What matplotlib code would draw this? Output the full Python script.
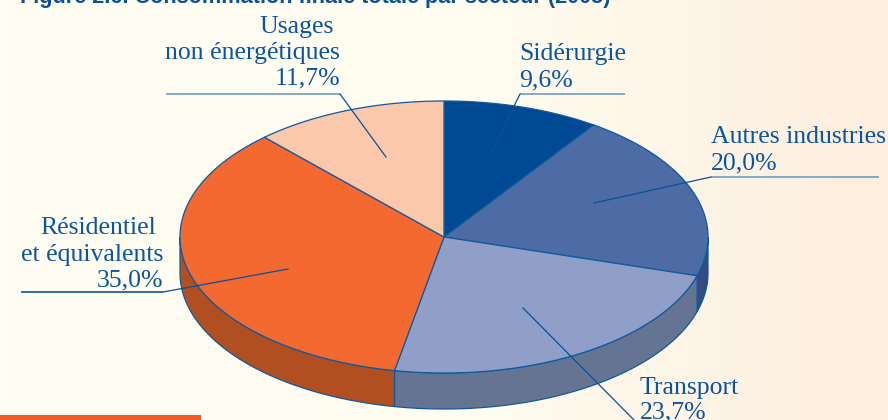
import numpy as np
import matplotlib
matplotlib.use("Agg")
from matplotlib import pyplot as plt
from matplotlib.colors import LinearSegmentedColormap

plt.rcParams['font.family'] = ['Liberation Serif', 'DejaVu Serif']

# slice sizes as measured on the drawing, clockwise from 12 o'clock
# (the printed labels below say 23,7 / 35,0 / 11,7, the drawing is slightly off)
sectors = ["Sidérurgie", "Autres industries", "Transport", "Résidentiel et équivalents", "Usages non énergétiques"]
values = [9.6, 20.0, 23.4, 35.1, 11.9]
top_colors = ["#004a93", "#4d6ca6", "#8f9fc8", "#f4692f", "#fcc8ac"]
side_colors = ["#003a75", "#344c7f", "#667494", "#b24f20", "#c09a80"]

# pie geometry in picture pixels
cx, cy = 444, 237
rx, ry = 264, 136
depth = 36
edge = "#0f5a9e"
text_blue = "#0b559f"
lead_blue = "#6f9cc6"


def pie_xy(pct):
    a = np.radians(np.asarray(pct) * 3.6)
    return cx + rx * np.sin(a), cy - ry * np.cos(a)


fig = plt.figure(figsize=(8.88, 4.2), dpi=100)
ax = fig.add_axes([0, 0, 1, 1])
ax.set_xlim(0, 888)
ax.set_ylim(420, 0)
ax.axis('off')

# paper background, cream going peach on the right
cmap = LinearSegmentedColormap.from_list("paper", [(0, "#fffef3"), (0.55, "#fffcf0"), (1, "#fdeedd")])
ax.imshow(np.linspace(0, 1, 256).reshape(1, -1), extent=(0, 888, 420, 0), cmap=cmap, aspect='auto', zorder=0)

edges = np.concatenate([[0], np.cumsum(values)])

# side wall: only the front half of the ellipse is visible (25% to 75%)
for i in range(len(values)):
    lo, hi = max(edges[i], 25), min(edges[i + 1], 75)
    if hi <= lo:
        continue
    t = np.linspace(lo, hi, 80)
    x, y = pie_xy(t)
    ax.fill(np.r_[x, x[::-1]], np.r_[y, y[::-1] + depth], fc=side_colors[i], ec=edge, lw=0.9, zorder=2)

# top face
for i in range(len(values)):
    t = np.linspace(edges[i], edges[i + 1], 120)
    x, y = pie_xy(t)
    ax.fill(np.r_[cx, x], np.r_[cy, y], fc=top_colors[i], ec=edge, lw=0.9, zorder=3, joinstyle='round')

# leader lines: horizontal rule then the slanted tick into the slice
rules = [(166, 340, 94, lead_blue), (520, 625, 94, lead_blue), (711, 879, 177, lead_blue), (21, 163, 292, text_blue)]
ticks = [((340, 94), (386, 157)), ((520, 94), (490, 155)), ((711, 177), (594, 203)),
         ((163, 292), (288, 269)), ((523, 308), (634, 420))]
for x0, x1, y, c in rules:
    ax.plot([x0, x1], [y, y], color=c, lw=1.2, zorder=4, solid_capstyle='butt')
for p, q in ticks:
    ax.plot([p[0], q[0]], [p[1], q[1]], color="#0a5097", lw=0.9, zorder=4)

fs = 18.5
ax.text(334, 26.5, "Usages", ha='right', va='center', color=text_blue, fontsize=fs, zorder=5)
ax.text(340, 53, "non énergétiques", ha='right', va='center', color=text_blue, fontsize=fs, zorder=5)
ax.text(340, 78, "11,7%", ha='right', va='center', color=text_blue, fontsize=fs, zorder=5)
ax.text(519, 54, "Sidérurgie", ha='left', va='center', color=text_blue, fontsize=fs, zorder=5)
ax.text(519, 80, "9,6%", ha='left', va='center', color=text_blue, fontsize=fs, zorder=5)
ax.text(711, 137, "Autres industries", ha='left', va='center', color=text_blue, fontsize=fs, zorder=5)
ax.text(711, 163, "20,0%", ha='left', va='center', color=text_blue, fontsize=fs, zorder=5)
ax.text(156, 228, "Résidentiel", ha='right', va='center', color=text_blue, fontsize=fs, zorder=5)
ax.text(163, 255, "et équivalents", ha='right', va='center', color=text_blue, fontsize=fs, zorder=5)
ax.text(163, 280, "35,0%", ha='right', va='center', color=text_blue, fontsize=fs, zorder=5)
ax.text(640, 388, "Transport", ha='left', va='center', color=text_blue, fontsize=fs, zorder=5)
ax.text(640, 412, "23,7%", ha='left', va='center', color=text_blue, fontsize=fs, zorder=5)

# title is cut off by the top of the crop
ax.text(20, -2, "Figure 2.6. Consommation finale totale par secteur (2005)", ha='left', va='center',
        color="#0b4f96", fontsize=15.55, fontweight='bold', family=['Liberation Sans', 'DejaVu Sans'], zorder=5)

# orange band at the bottom
ax.fill_between([0, 201], 415, 420, color="#f15a24", lw=0, zorder=5)

ax.set_xlim(0, 888)
ax.set_ylim(420, 0)
fig.savefig("out.png", dpi=100)
